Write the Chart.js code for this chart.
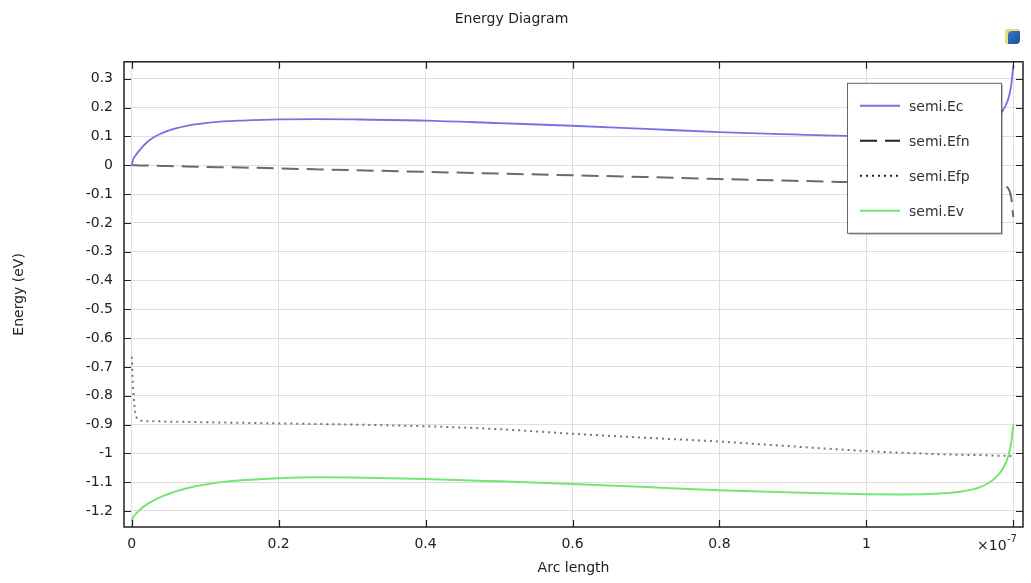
<!DOCTYPE html>
<html>
<head>
<meta charset="utf-8">
<title>Energy Diagram</title>
<script src="https://cdn.jsdelivr.net/npm/chart.js@4.4.1/dist/chart.umd.min.js"></script>
<style>
    html, body { margin: 0; padding: 0; background: #fff; }
    #wrap { position: relative; width: 1031px; height: 583px; }
    #icon {
        position: absolute; left: 1005px; top: 29px; width: 15px; height: 15px;
        border-radius: 4px; background: linear-gradient(135deg, #3f7fd0, #1b4f9c);
        box-shadow: inset 3px 2px 0 #e6e07a;
    }
</style>
</head>
<body>
<div id="wrap">
    <canvas id="energyChart" width="1031" height="583"></canvas>
    <div id="icon"></div>
</div>
<script>
// Arc length (x10^-7), shared by all four curves
const arcLength = [0, 0.002, 0.005, 0.01, 0.02, 0.03, 0.04, 0.05, 0.06, 0.075, 0.1, 0.125, 0.15, 0.2, 0.25, 0.3, 0.4, 0.5,
    0.6, 0.7, 0.8, 0.9, 1.0, 1.05, 1.1, 1.13, 1.155, 1.17, 1.18, 1.187, 1.193, 1.197, 1.2];

// Energy values (eV)
const ecValues = [0, 0.02, 0.033, 0.05, 0.078, 0.097, 0.11, 0.12, 0.128, 0.137, 0.146, 0.152, 0.155, 0.159, 0.16, 0.159, 0.155, 0.146,
    0.137, 0.126, 0.115, 0.107, 0.1, 0.098, 0.1, 0.107, 0.124, 0.145, 0.17, 0.195, 0.229, 0.275, 0.345];
const efnValues = [0, -0.0001, -0.0003, -0.0006, -0.001, -0.0017, -0.0023, -0.003, -0.0035, -0.004, -0.006, -0.007, -0.008, -0.011, -0.014, -0.017, -0.023, -0.029,
    -0.035, -0.041, -0.048, -0.054, -0.06, -0.063, -0.066, -0.067, -0.068, -0.069, -0.07, -0.072, -0.08, -0.11, -0.18];
const efpValues = [-0.665, -0.78, -0.86, -0.884, -0.888, -0.889, -0.889, -0.89, -0.89, -0.891, -0.892, -0.893, -0.894, -0.896, -0.898, -0.9, -0.906, -0.916,
    -0.932, -0.946, -0.959, -0.976, -0.992, -0.998, -1.003, -1.005, -1.006, -1.007, -1.008, -1.008, -1.009, -1.009, -1.01];
const evValues = [-1.235, -1.222, -1.212, -1.198, -1.178, -1.163, -1.151, -1.141, -1.132, -1.121, -1.108, -1.099, -1.093, -1.086, -1.083, -1.084, -1.089, -1.097,
    -1.106, -1.117, -1.128, -1.136, -1.142, -1.143, -1.139, -1.132, -1.117, -1.097, -1.073, -1.048, -1.011, -0.965, -0.9];

const seriesNames = ['semi.Ec', 'semi.Efn', 'semi.Efp', 'semi.Ev'];
const xTickValues = [0, 0.2, 0.4, 0.6, 0.8, 1, 1.2];
const yTickValues = [0.3, 0.2, 0.1, 0, -0.1, -0.2, -0.3, -0.4, -0.5, -0.6, -0.7, -0.8, -0.9, -1, -1.1, -1.2];

const FONT = 'DejaVu Sans';

function toPoints(values) {
    return values.map((v, i) => ({ x: arcLength[i], y: v }));
}

// Frame, inward ticks, exponent label and boxed legend
const framePlugin = {
    id: 'frame',
    afterDraw(chart) {
        const { ctx, chartArea: a, scales } = chart;
        ctx.save();
        ctx.strokeStyle = '#222';
        ctx.lineWidth = 1.5;
        ctx.strokeRect(a.left, a.top, a.right - a.left, a.bottom - a.top);

        ctx.lineWidth = 1.2;
        ctx.beginPath();
        yTickValues.forEach(v => {
            const y = Math.round(scales.y.getPixelForValue(v)) + 0.5;
            ctx.moveTo(a.left, y); ctx.lineTo(a.left + 7, y);
            ctx.moveTo(a.right, y); ctx.lineTo(a.right - 7, y);
        });
        xTickValues.forEach(v => {
            const x = Math.round(scales.x.getPixelForValue(v)) + 0.5;
            ctx.moveTo(x, a.bottom); ctx.lineTo(x, a.bottom - 7);
            ctx.moveTo(x, a.top); ctx.lineTo(x, a.top + 7);
        });
        ctx.stroke();

        // x10^-7 exponent label at the last tick
        ctx.fillStyle = '#222';
        ctx.textBaseline = 'middle';
        ctx.textAlign = 'left';
        ctx.font = '14px ' + FONT;
        const ex = a.right - 46, ey = a.bottom + 19;
        ctx.fillText('\u00d710', ex, ey);
        ctx.font = '10px ' + FONT;
        ctx.fillText('-7', ex + 30, ey - 7);

        // legend box
        const bw = 154, bh = 150;
        const bx = a.right - 22 - bw, by = a.top + 21;
        ctx.fillStyle = 'rgba(0,0,0,0.25)';
        ctx.fillRect(bx + 2, by + 2, bw, bh);
        ctx.fillStyle = '#fff';
        ctx.fillRect(bx, by, bw, bh);
        ctx.strokeStyle = '#666';
        ctx.lineWidth = 1;
        ctx.strokeRect(bx + 0.5, by + 0.5, bw, bh);
        chart.data.datasets.forEach((ds, i) => {
            const ry = by + 23 + i * 35;
            ctx.strokeStyle = i === 0 || i === 3 ? ds.borderColor : '#222';
            ctx.lineWidth = 2;
            ctx.setLineDash(ds.borderDash || []);
            ctx.beginPath();
            ctx.moveTo(bx + 13, ry); ctx.lineTo(bx + 53, ry);
            ctx.stroke();
            ctx.setLineDash([]);
            ctx.fillStyle = '#333';
            ctx.font = '14px ' + FONT;
            ctx.fillText(ds.label, bx + 62, ry + 2);
        });
        ctx.restore();
    }
};

function initEnergyChart() {
    const ctx = document.getElementById('energyChart').getContext('2d');

    new Chart(ctx, {
        type: 'line',
        data: {
            datasets: [
                {
                    label: seriesNames[0],
                    data: toPoints(ecValues),
                    borderColor: 'rgb(115,115,228)',
                    borderWidth: 1.8
                },
                {
                    label: seriesNames[1],
                    data: toPoints(efnValues),
                    borderColor: '#6a6a6a',
                    borderWidth: 2,
                    borderDash: [17, 8]
                },
                {
                    label: seriesNames[2],
                    data: toPoints(efpValues),
                    borderColor: '#777',
                    borderWidth: 2,
                    borderDash: [2, 4]
                },
                {
                    label: seriesNames[3],
                    data: toPoints(evValues),
                    borderColor: 'rgb(115,230,115)',
                    borderWidth: 2
                }
            ]
        },
        options: {
            responsive: false,
            animation: false,
            cubicInterpolationMode: 'monotone',
            elements: { point: { radius: 0 } },
            layout: { padding: { left: 0, right: 8, top: 0, bottom: 0 } },
            plugins: {
                legend: { display: false },
                tooltip: { enabled: false },
                title: {
                    display: true,
                    text: 'Energy Diagram',
                    color: '#222',
                    font: { family: FONT, size: 14, weight: 'normal' },
                    padding: { top: 11, bottom: 34 }
                }
            },
            scales: {
                x: {
                    type: 'linear',
                    min: -0.0105,
                    max: 1.2132,
                    afterFit: s => { s.height = 56; },
                    afterBuildTicks: s => { s.ticks = xTickValues.map(v => ({ value: v })); },
                    border: { display: false },
                    grid: { color: '#dedede', drawTicks: false },
                    ticks: {
                        padding: 9,
                        color: '#222',
                        font: { family: FONT, size: 14 },
                        maxRotation: 0,
                        callback: v => (v === 1.2 ? '' : String(Math.round(v * 10) / 10))
                    },
                    title: {
                        display: true,
                        text: 'Arc length',
                        color: '#222',
                        font: { family: FONT, size: 14 },
                        padding: { top: 2, bottom: 6 }
                    }
                },
                y: {
                    min: -1.2556,
                    max: 0.359,
                    afterFit: s => { s.width = 124; },
                    afterBuildTicks: s => { s.ticks = yTickValues.map(v => ({ value: v })); },
                    border: { display: false },
                    grid: { color: '#dedede', drawTicks: false },
                    ticks: {
                        padding: 11,
                        color: '#222',
                        font: { family: FONT, size: 14 },
                        callback: v => String(Math.round(v * 10) / 10)
                    },
                    title: {
                        display: true,
                        text: 'Energy (eV)',
                        color: '#222',
                        font: { family: FONT, size: 14 },
                        padding: { top: 11, bottom: 0 }
                    }
                }
            }
        },
        plugins: [framePlugin]
    });
}

document.addEventListener('DOMContentLoaded', initEnergyChart);
</script>
</body>
</html>
